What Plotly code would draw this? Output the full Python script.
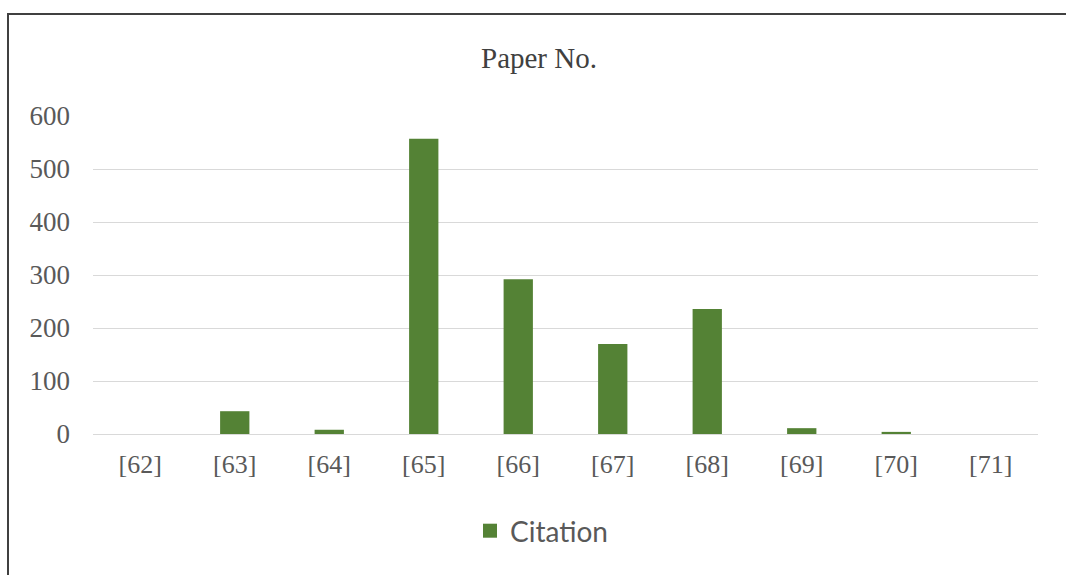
import plotly.graph_objects as go

categories = ["[62]", "[63]", "[64]", "[65]", "[66]", "[67]", "[68]", "[69]", "[70]", "[71]"]
citations = [0, 43, 8, 557, 292, 170, 236, 11, 4, 0]
y_ticks = [0, 100, 200, 300, 400, 500, 600]
green = "#548235"

fig = go.Figure()
fig.add_trace(go.Bar(
    x=categories, y=citations, name="Citation",
    marker=dict(color=green, line=dict(width=0)),
    showlegend=False,
))
# legend entry with a larger square symbol
fig.add_trace(go.Scatter(
    x=[None], y=[None], mode="markers", name="Citation",
    marker=dict(symbol="square", size=14, color=green),
    showlegend=True, hoverinfo="skip",
))

L, R, T, B = 93, 28, 116, 141
W, H = 1066, 575
pw = W - L - R
ph = H - T - B

def px_x(p):
    return (p - L) / pw

def px_y(p):
    return (H - B - p) / ph

fig.update_layout(
    width=W, height=H,
    margin=dict(l=L, r=R, t=T, b=B, pad=0),
    paper_bgcolor="white", plot_bgcolor="white",
    bargap=0.69,
    title=dict(text="Paper No.", x=539 / W, xanchor="center", xref="container",
               y=1 - 58 / H, yanchor="middle",
               font=dict(family="Liberation Serif", size=29, color="#404040")),
    xaxis=dict(showgrid=False, showline=False, zeroline=False, ticks="",
               tickfont=dict(family="Liberation Serif", size=26, color="#595959"),
               ticklabelstandoff=12),
    yaxis=dict(range=[0, 600], tickvals=y_ticks, showgrid=True,
               gridcolor="#d9d9d9", gridwidth=1, zeroline=True,
               zerolinecolor="#d9d9d9", zerolinewidth=1, showline=False, ticks="",
               tickfont=dict(family="Liberation Serif", size=27, color="#595959"),
               ticklabelstandoff=22),
    legend=dict(orientation="h", x=px_x(470), xanchor="left", y=px_y(531), yanchor="middle",
                font=dict(family="Lato", size=28, color="#595959"),
                itemwidth=30),
    shapes=[dict(type="rect", xref="paper", yref="paper",
                 x0=px_x(8), x1=px_x(W + 20), y0=px_y(H + 20), y1=px_y(14),
                 line=dict(color="#404040", width=2), fillcolor="rgba(0,0,0,0)",
                 layer="below")],
)

fig.write_html("out.html")
